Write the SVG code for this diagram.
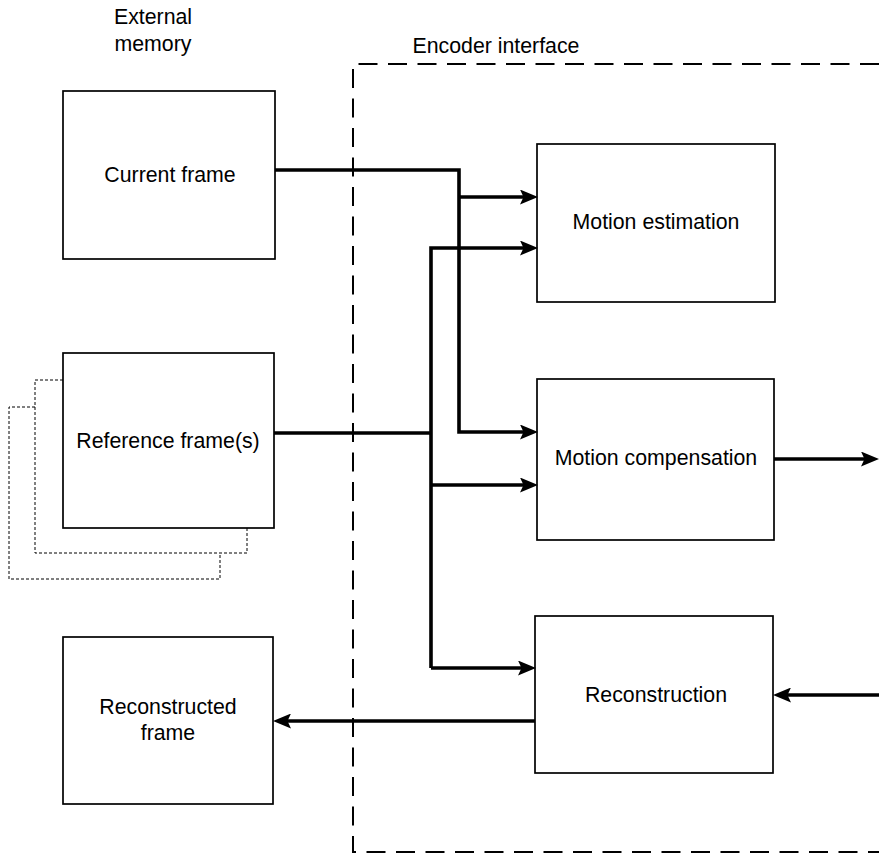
<svg xmlns="http://www.w3.org/2000/svg" width="879" height="853" viewBox="0 0 879 853">
<style>
.box{fill:#fff;stroke:#000;stroke-width:1.7}
.lbl{font-family:"Liberation Sans",Arial,Helvetica,sans-serif;font-size:21.3px;fill:#000;text-anchor:middle}
.wire{fill:none;stroke:#000;stroke-width:3.6}
.dot{fill:none;stroke:#000;stroke-width:1;stroke-dasharray:3 2}
.dash{fill:none;stroke:#000;stroke-width:2;stroke-dasharray:19 10.5}
</style>
<defs>
<marker id="ah" viewBox="0 0 18 15" refX="9" refY="7.5" markerWidth="18" markerHeight="15" markerUnits="userSpaceOnUse" orient="auto">
<path d="M0,0 L18,7.5 L0,15 L3.5,7.5 Z" fill="#000"/>
</marker>
</defs>
<rect width="879" height="853" fill="#fff"/>
<text class="lbl" x="153" y="24">External</text>
<text class="lbl" x="153" y="51">memory</text>
<text class="lbl" x="496" y="53">Encoder interface</text>
<path id="encoder-boundary" class="dash" d="M879,64 H353 V852 H879"/>
<g id="current-frame">
<rect class="box" x="63" y="91" width="212" height="168"/>
<text class="lbl" x="170" y="182">Current frame</text>
</g>
<g id="reference-frames">
<polyline class="dot" points="35,407 9,407 9,579 220,579 220,553"/>
<polyline class="dot" points="63,380 35,380 35,553 247,553 247,528"/>
<rect class="box" x="63" y="353" width="211" height="175"/>
<text class="lbl" x="168" y="448">Reference frame(s)</text>
</g>
<g id="reconstructed-frame">
<rect class="box" x="63" y="637" width="210" height="167"/>
<text class="lbl" x="168" y="714">Reconstructed</text>
<text class="lbl" x="168" y="740">frame</text>
</g>
<g id="motion-estimation">
<rect class="box" x="537" y="144" width="238" height="158"/>
<text class="lbl" x="656" y="229">Motion estimation</text>
</g>
<g id="motion-compensation">
<rect class="box" x="537" y="379" width="237" height="161"/>
<text class="lbl" x="656" y="465">Motion compensation</text>
</g>
<g id="reconstruction">
<rect class="box" x="535" y="616" width="238" height="157"/>
<text class="lbl" x="656" y="702">Reconstruction</text>
</g>
<g id="connectors">
<path class="wire" d="M275,170 H459 V432 H529" marker-end="url(#ah)"/>
<path class="wire" d="M459,197 H529" marker-end="url(#ah)"/>
<path class="wire" d="M274,433 H431"/>
<path class="wire" d="M431,668 V248 H529" marker-end="url(#ah)"/>
<path class="wire" d="M431,485 H529" marker-end="url(#ah)"/>
<path class="wire" d="M431,668 H527" marker-end="url(#ah)"/>
<path class="wire" d="M774,459 H870" marker-end="url(#ah)"/>
<path class="wire" d="M879,695 H782" marker-end="url(#ah)"/>
<path class="wire" d="M535,721 H282" marker-end="url(#ah)"/>
</g>
</svg>
